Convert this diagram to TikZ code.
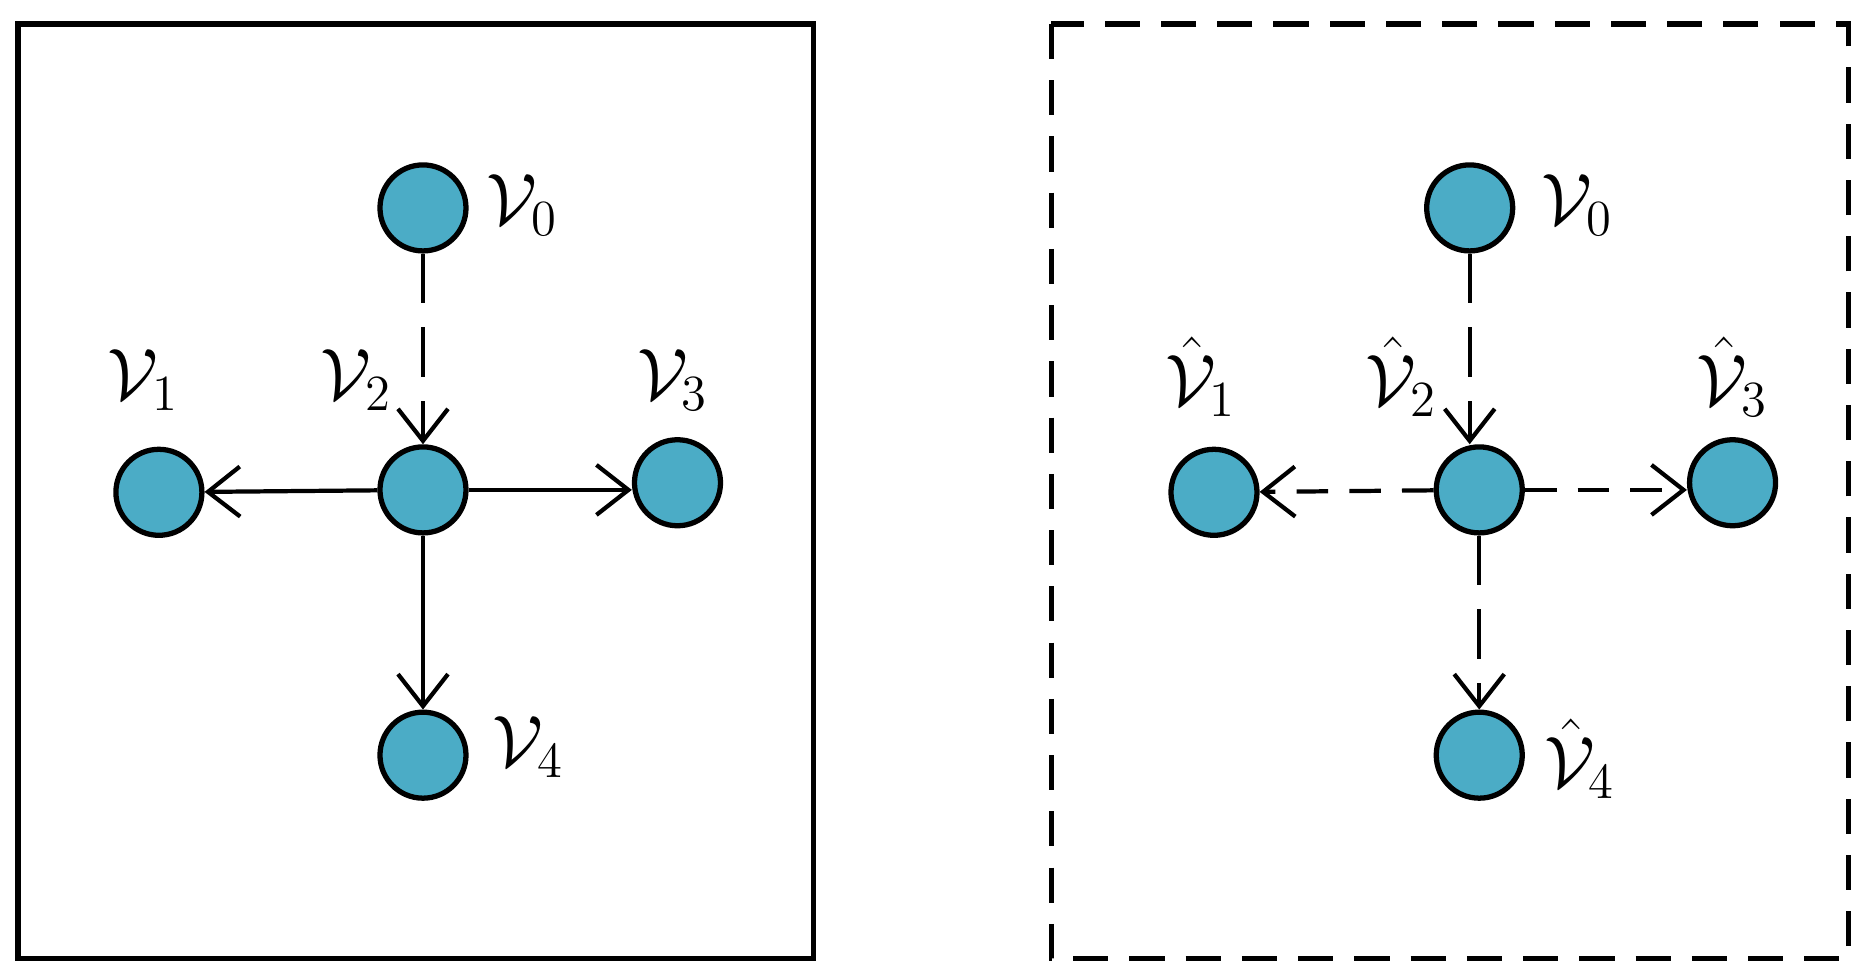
\documentclass[tikz,border=0pt]{standalone}
\usetikzlibrary{arrows.meta}
\begin{document}
\begin{tikzpicture}[x=0.01195cm,y=-0.01195cm,
  nd/.style={circle,draw=black,line width=1.5pt,fill=cyan!50!teal!70!white,minimum size=0.86cm,inner sep=0pt},
  lb/.style={font=\fontsize{22}{26}\selectfont},
  ar/.style={line width=1.2pt,-{Straight Barb[length=3.2mm,width=5mm,line width=1.2pt]}},
  dsh/.style={dash pattern=on 14pt off 7pt},
  dsh2/.style={dash pattern=on 9pt off 6pt}]
\definecolor{nodec}{RGB}{75,172,198}
\tikzset{nd/.append style={fill=nodec}}
\useasboundingbox (0,0) rectangle (1560,820);
\draw[line width=1.5pt] (15,20) rectangle (681,802);
\draw[line width=1.5pt,dash pattern=on 10pt off 6pt] (880,20) rectangle (1547,802);
% left
\node[nd] (a0) at (354,174) {};
\node[nd] (a2) at (354,410) {};
\node[nd] (a1) at (133,412) {};
\node[nd] (a3) at (567,404) {};
\node[nd] (a4) at (354,632) {};
\node[lb] (la0) at (437,172) {$\mathcal{V}_0$};
\node[lb] (la1) at (120,318) {$\mathcal{V}_1$};
\node[lb] (la2) at (298,318) {$\mathcal{V}_2$};
\node[lb] (la3) at (563,318) {$\mathcal{V}_3$};
\node[lb] (la4) at (442,625) {$\mathcal{V}_4$};
\draw[ar,dsh] (a0) -- (a2);
\draw[ar] (a2) -- (a1);
\draw[ar] (a2.east) -- (a3.west|-a2.east);
\draw[ar] (a2) -- (a4);
% right
\node[nd] (b0) at (1230,174) {};
\node[nd] (b2) at (1238,410) {};
\node[nd] (b1) at (1016,412) {};
\node[nd] (b3) at (1450,404) {};
\node[nd] (b4) at (1238,632) {};
\node[lb] (lb0) at (1320,172) {$\mathcal{V}_0$};
\node[lb] (lb1) at (1005,315) {$\hat{\mathcal{V}}_1$};
\node[lb] (lb2) at (1173,315) {$\hat{\mathcal{V}}_2$};
\node[lb] (lb3) at (1450,315) {$\hat{\mathcal{V}}_3$};
\node[lb] (lb4) at (1322,635) {$\hat{\mathcal{V}}_4$};
\draw[ar,dsh] (b0.south) -- (b0.south|-b2.north);
\draw[ar,dsh2] (b2) -- (b1);
\draw[ar,dsh2] (b2.east) -- (b3.west|-b2.east);
\draw[ar,dsh] (b2) -- (b4);
\end{tikzpicture}
\end{document}
